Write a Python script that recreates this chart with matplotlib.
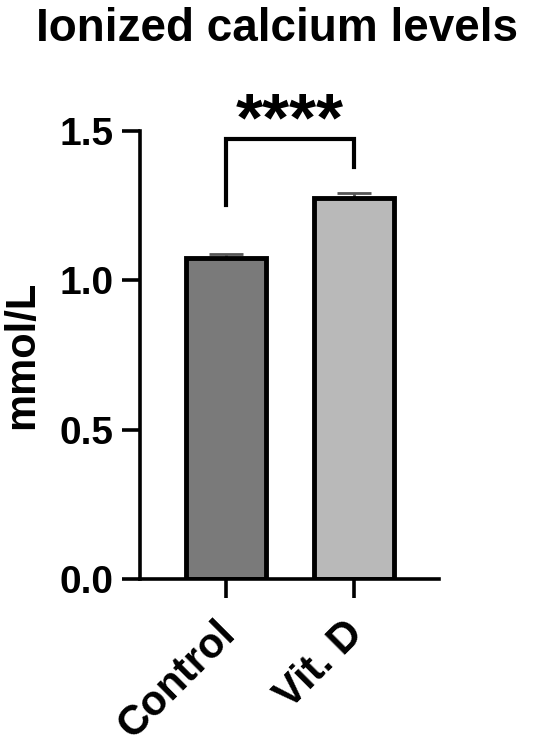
import numpy as np
import matplotlib.pyplot as plt
import matplotlib.transforms as mtransforms

plt.rcParams['font.family'] = ['Liberation Sans', 'DejaVu Sans']
plt.rcParams['font.weight'] = 'bold'

groups = ['Control', 'Vit. D']
means = [1.075, 1.276]
sems = [0.014, 0.016]
colors = ['#7a7a7a', '#b9b9b9']
yticks = [0.0, 0.5, 1.0, 1.5]

fig = plt.figure(figsize=(5.5, 7.47), dpi=100)
ax = fig.add_axes([0.2545, 0.2249, 0.5436, 0.5997])

x = np.arange(len(groups))
ax.bar(x, means, width=0.63, color=colors, edgecolor='black', linewidth=3.5, zorder=2)
ax.errorbar(x, means, yerr=[[0, 0], sems], fmt='none', ecolor='#555555',
            elinewidth=2, capsize=12, capthick=2, zorder=1)

ax.set_xlim(-0.672, 1.664)
ax.set_ylim(0, 1.5)
ax.set_yticks(yticks)
ax.set_yticklabels([f'{v:.1f}' for v in yticks])
ax.set_xticks(x)
ax.set_xticklabels(groups, rotation=45, ha='right', rotation_mode='anchor')

for s in ['top', 'right']:
    ax.spines[s].set_visible(False)
for s in ['left', 'bottom']:
    ax.spines[s].set_linewidth(2.6)
ax.tick_params(axis='y', width=2.6, length=13, labelsize=28, pad=6)
ax.tick_params(axis='x', width=2.6, length=14, labelsize=30, pad=6)

# nudge rotated category labels (left and down a little)
offset = mtransforms.ScaledTranslation(-11 / 100, -7 / 100, fig.dpi_scale_trans)
for lab in ax.get_xticklabels():
    lab.set_transform(lab.get_transform() + offset)

ax.set_ylabel('mmol/L', fontsize=30, fontweight='bold')
ax.yaxis.set_label_coords(-0.326, 0.5)
fig.suptitle('Ionized calcium levels', fontsize=33, fontweight='bold', x=0.503, y=0.99)

# significance bracket
ax.plot([0, 0, 1, 1], [1.252, 1.473, 1.473, 1.379], color='black', lw=3, clip_on=False,
        solid_joinstyle='miter')
ax.text(0.5, 1.47, '****', ha='center', va='baseline', fontsize=50, fontweight='bold')

fig.savefig('out.png', dpi=100)
